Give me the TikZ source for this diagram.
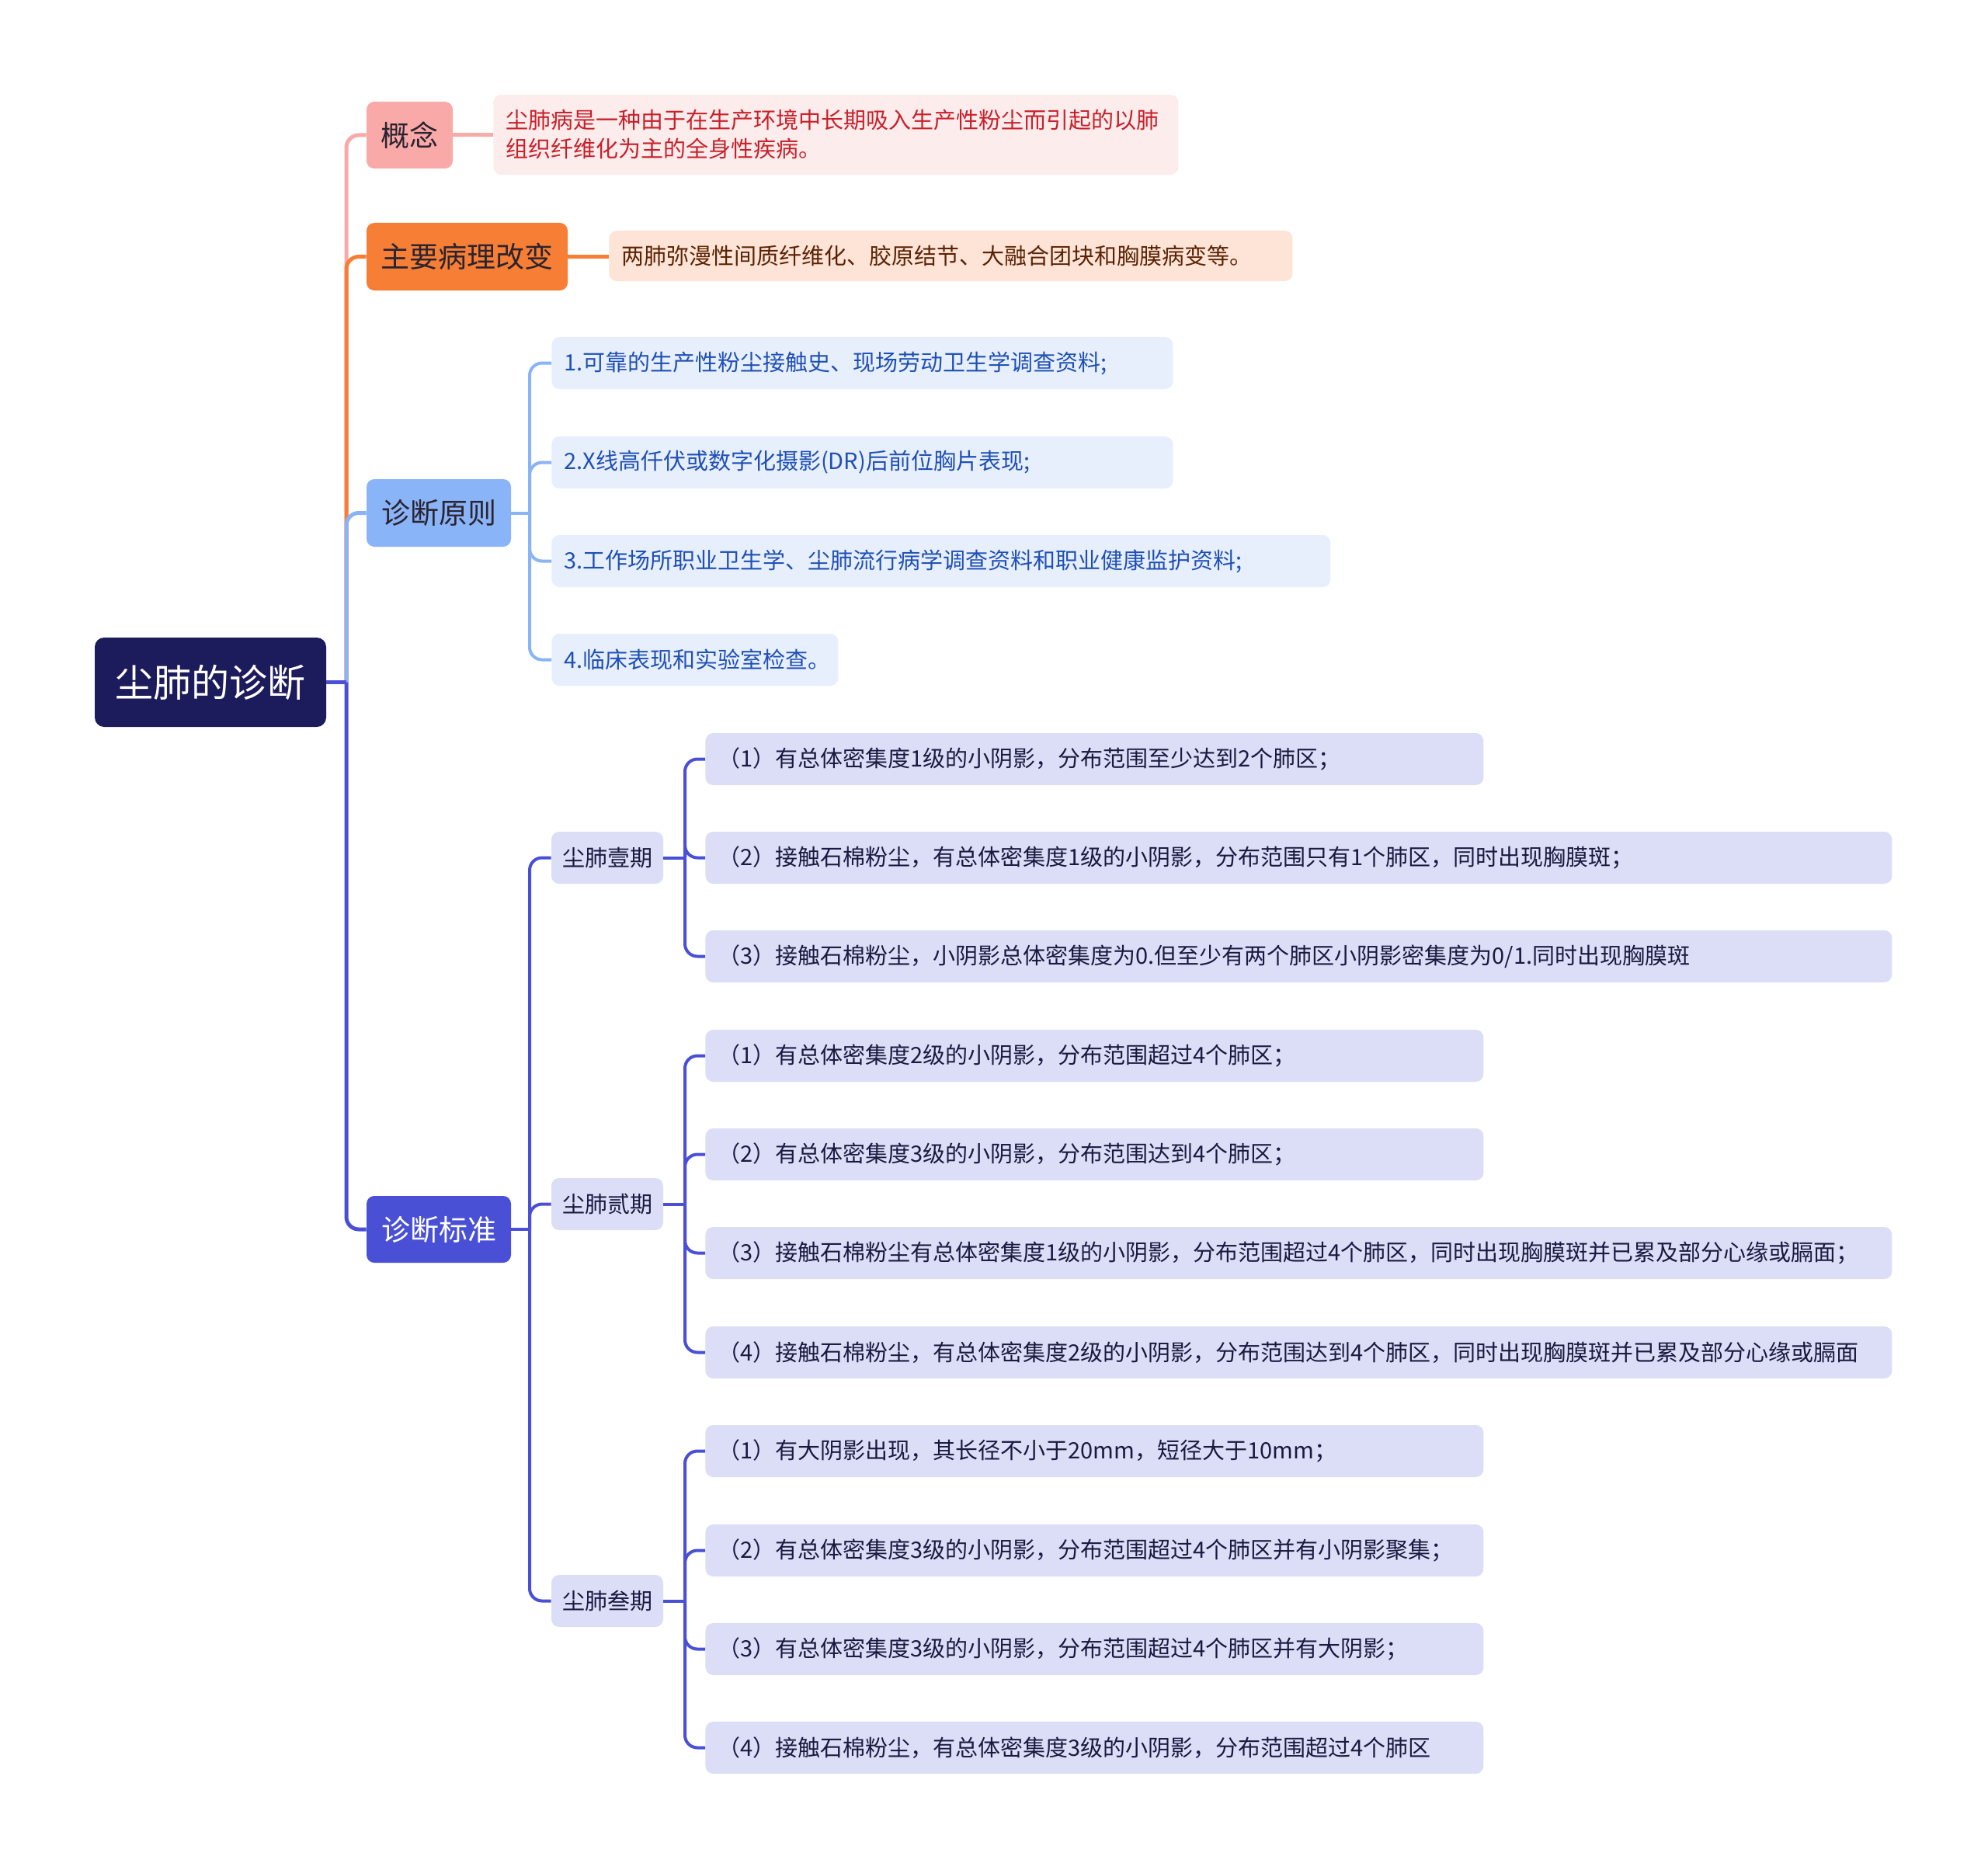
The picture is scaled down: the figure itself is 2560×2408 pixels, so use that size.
\documentclass[tikz,border=0pt]{standalone}
\usepackage{fontspec}
\setmainfont{Noto Sans CJK SC}
\usetikzlibrary{calc}
\definecolor{rootc}{HTML}{1C1B5C}
\definecolor{pinkc}{HTML}{F9A9A8}
\definecolor{pinkbg}{HTML}{FDECEC}
\definecolor{pinktx}{HTML}{C8202A}
\definecolor{orc}{HTML}{F67E35}
\definecolor{orbg}{HTML}{FDE4D6}
\definecolor{ortx}{HTML}{5B2305}
\definecolor{ltb}{HTML}{8AB4F8}
\definecolor{ltbbg}{HTML}{E7EFFD}
\definecolor{ltbtx}{HTML}{1F50B5}
\definecolor{ind}{HTML}{4A50D6}
\definecolor{indbg}{HTML}{DCDEF7}
\definecolor{indtx}{HTML}{1A1A40}
\definecolor{darktx}{HTML}{2A2430}
\newcommand{\leafbox}[2]{\makebox[#1pt][l]{#2}}
\begin{document}
\begin{tikzpicture}[x=0.5pt,y=-0.5pt,
  box/.style={rounded corners=5pt, inner ysep=0pt, draw=none},
  lvl/.style={box, inner xsep=0pt, minimum height=43.5pt, font=\fontsize{18.5pt}{22pt}\selectfont},
  stage/.style={box, inner xsep=0pt, minimum width=72pt, minimum height=33.5pt, fill=indbg, text=indtx, font=\fontsize{14.5pt}{18pt}\selectfont},
  leaf/.style={box, anchor=west, inner xsep=8pt, minimum height=33.5pt, align=left, font=\fontsize{14.5pt}{18.5pt}\selectfont},
  bleaf/.style={leaf, fill=ltbbg, text=ltbtx},
  sleaf/.style={leaf, fill=indbg, text=indtx},
  conn/.style={line width=2.5pt, rounded corners=8pt},
  conn2/.style={line width=2pt, rounded corners=8pt}]
\useasboundingbox[fill=white] (0,0) rectangle (2560,2408);

% root
\node[box, fill=rootc, text=white, inner xsep=0pt, minimum width=149pt, minimum height=57.5pt, rounded corners=6pt, font=\fontsize{24.5pt}{28pt}\selectfont] (root) at (271,878.5) {尘肺的诊断};

% level 1
\node[lvl, fill=pinkc, text=darktx, minimum width=55.5pt, minimum height=43pt] (gn) at (527.5,174) {概念};
\node[lvl, fill=orc, text=darktx, minimum width=129.5pt] (bl) at (601.5,330.5) {主要病理改变};
\node[lvl, fill=ltb, text=darktx, minimum width=93pt] (yz) at (565,660.5) {诊断原则};
\node[lvl, fill=ind, text=white, minimum width=93pt, minimum height=43pt] (bz) at (565,1583) {诊断标准};

% contents
\node[leaf, fill=pinkbg, text=pinktx, minimum height=51.5pt, text width=425pt] (gnc) at (635,173.5) {尘肺病是一种由于在生产环境中长期吸入生产性粉尘而引起的以肺\\组织纤维化为主的全身性疾病。};
\node[leaf, fill=orbg, text=ortx, minimum height=32.5pt] (blc) at (784,329.5) {\leafbox{424}{两肺弥漫性间质纤维化、胶原结节、大融合团块和胸膜病变等。}};

\node[bleaf] (yz1) at (710,467.5) {\leafbox{384}{1.可靠的生产性粉尘接触史、现场劳动卫生学调查资料;}};
\node[bleaf] (yz2) at (710,595.5) {\leafbox{384}{2.X线高仟伏或数字化摄影(DR)后前位胸片表现;}};
\node[bleaf] (yz3) at (710,722.5) {\leafbox{485.5}{3.工作场所职业卫生学、尘肺流行病学调查资料和职业健康监护资料;}};
\node[bleaf] (yz4) at (710,849.5) {\leafbox{168.5}{4.临床表现和实验室检查。}};

% stages
\node[stage] (s1) at (782,1104.5) {尘肺壹期};
\node[stage] (s2) at (782,1550.5) {尘肺贰期};
\node[stage] (s3) at (782,2061.5) {尘肺叁期};

\node[sleaf] (s1a) at (908,977.5) {\leafbox{485}{（1）有总体密集度1级的小阴影，分布范围至少达到2个肺区；}};
\node[sleaf] (s1b) at (908,1104.5) {\leafbox{748}{（2）接触石棉粉尘，有总体密集度1级的小阴影，分布范围只有1个肺区，同时出现胸膜斑；}};
\node[sleaf] (s1c) at (908,1231.5) {\leafbox{748}{（3）接触石棉粉尘，小阴影总体密集度为0.但至少有两个肺区小阴影密集度为0/1.同时出现胸膜斑}};

\node[sleaf] (s2a) at (908,1359.5) {\leafbox{485}{（1）有总体密集度2级的小阴影，分布范围超过4个肺区；}};
\node[sleaf] (s2b) at (908,1486.5) {\leafbox{485}{（2）有总体密集度3级的小阴影，分布范围达到4个肺区；}};
\node[sleaf] (s2c) at (908,1613.5) {\leafbox{748}{（3）接触石棉粉尘有总体密集度1级的小阴影，分布范围超过4个肺区，同时出现胸膜斑并已累及部分心缘或膈面；}};
\node[sleaf] (s2d) at (908,1741.5) {\leafbox{748}{（4）接触石棉粉尘，有总体密集度2级的小阴影，分布范围达到4个肺区，同时出现胸膜斑并已累及部分心缘或膈面}};

\node[sleaf] (s3a) at (908,1868.5) {\leafbox{485}{（1）有大阴影出现，其长径不小于20mm，短径大于10mm；}};
\node[sleaf] (s3b) at (908,1996.5) {\leafbox{485}{（2）有总体密集度3级的小阴影，分布范围超过4个肺区并有小阴影聚集；}};
\node[sleaf] (s3c) at (908,2123.5) {\leafbox{485}{（3）有总体密集度3级的小阴影，分布范围超过4个肺区并有大阴影；}};
\node[sleaf] (s3d) at (908,2250.5) {\leafbox{485}{（4）接触石棉粉尘，有总体密集度3级的小阴影，分布范围超过4个肺区}};

% junction coordinates
\coordinate (rj) at (446,878.5);
\coordinate (yzj) at (682,660.5);
\coordinate (bzj) at (682,1583);
\coordinate (s1j) at (882,1104.5);
\coordinate (s2j) at (882,1550.5);
\coordinate (s3j) at (882,2061.5);

% trunk
\draw[conn, pinkc] (rj) |- (gn.west);
\draw[conn, orc] (rj) |- (bl.west);
\draw[conn, ltb] (rj) |- (yz.west);
\draw[conn, ind] (rj) |- (bz.west);
\draw[conn, ind] (root.east) -- (rj);

% level 1 to contents
\draw[conn, pinkc] (gn.east) -- (gn.east -| gnc.west);
\draw[conn, orc] (bl.east) -- (bl.east -| blc.west);

% principles
\draw[conn2, ltb] (yz.east) -- (yzj);
\foreach \n in {yz1,yz2,yz3,yz4} \draw[conn2, ltb] (yzj) |- (\n.west);

% standards
\draw[conn2, ind] (bz.east) -- (bzj);
\foreach \n in {s1,s2,s3} \draw[conn2, ind] (bzj) |- (\n.west);

\draw[conn2, ind] (s1.east) -- (s1j);
\foreach \n in {s1a,s1b,s1c} \draw[conn2, ind] (s1j) |- (\n.west);
\draw[conn2, ind] (s2.east) -- (s2j);
\foreach \n in {s2a,s2b,s2c,s2d} \draw[conn2, ind] (s2j) |- (\n.west);
\draw[conn2, ind] (s3.east) -- (s3j);
\foreach \n in {s3a,s3b,s3c,s3d} \draw[conn2, ind] (s3j) |- (\n.west);
\end{tikzpicture}
\end{document}
